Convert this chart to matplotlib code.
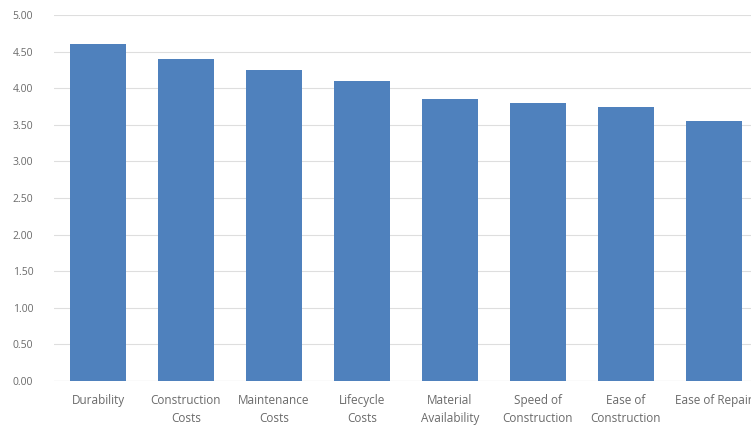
import matplotlib
matplotlib.use("Agg")
import matplotlib.pyplot as plt

categories = ["Durability", "Construction\nCosts", "Maintenance\nCosts", "Lifecycle\nCosts",
              "Material\nAvailability", "Speed of\nConstruction", "Ease of\nConstruction",
              "Ease of Repair"]
scores = [4.60, 4.40, 4.25, 4.10, 3.85, 3.80, 3.75, 3.55]
yticks = [0.0, 0.5, 1.0, 1.5, 2.0, 2.5, 3.0, 3.5, 4.0, 4.5, 5.0]

plt.rcParams['font.family'] = ['Open Sans', 'DejaVu Sans']

fig = plt.figure(figsize=(7.51, 4.28), dpi=100)
# axes run past the right edge, so the last label gets cut off
ax = fig.add_axes([0.0719, 0.1098, 0.9374, 0.855])

x = range(len(categories))
ax.bar(x, scores, width=0.63, color='#4f81bd', zorder=3)

ax.set_xlim(-0.5, len(categories) - 0.5)
ax.set_ylim(0, 5)
ax.set_yticks(yticks)
ax.set_yticklabels([f"{v:.2f}" for v in yticks], fontsize=7.5)
ax.set_xticks(list(x))
ax.set_xticklabels(categories, fontsize=8.5, linespacing=1.5)

ax.tick_params(axis='both', length=0, colors='#6a6a6a')
ax.tick_params(axis='x', pad=9)
ax.tick_params(axis='y', pad=15)
ax.grid(axis='y', color='#dedede', linewidth=0.8, zorder=0)
for s in ax.spines.values():
    s.set_visible(False)
ax.axhline(0, color='#d9d9d9', linewidth=0.8, zorder=1)

fig.savefig("out.png", dpi=100)
